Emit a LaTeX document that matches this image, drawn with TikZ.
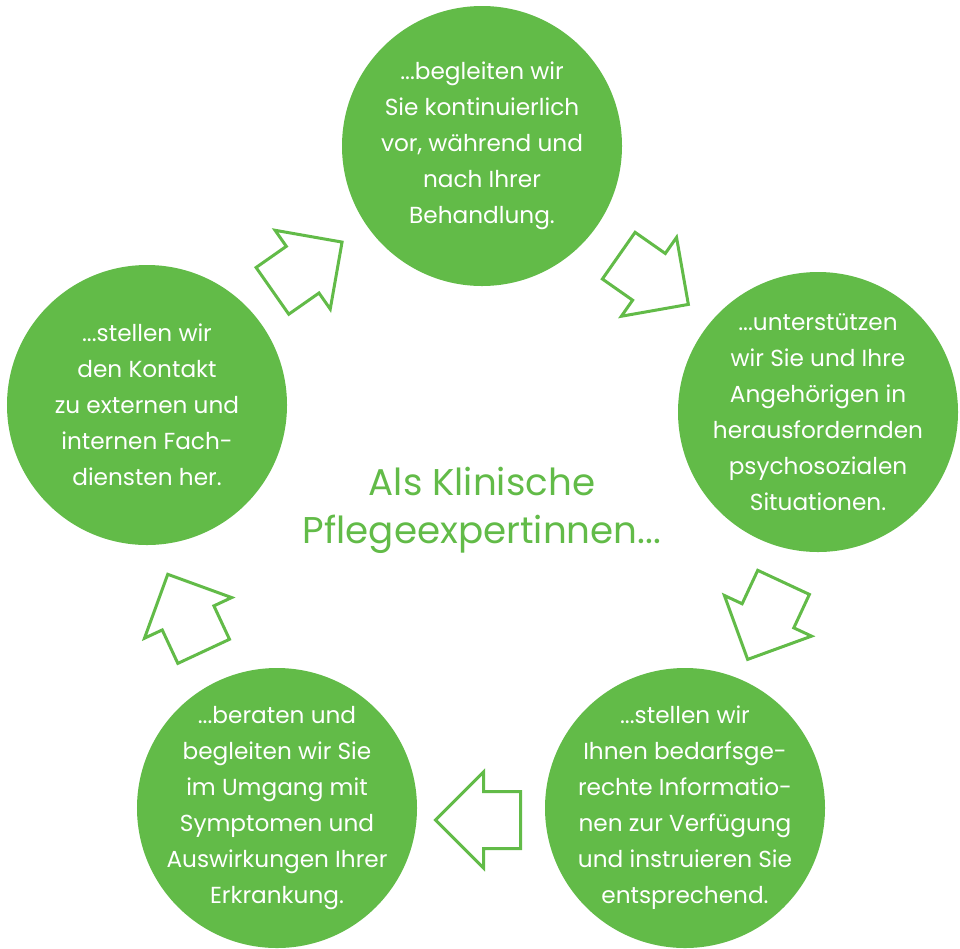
\documentclass[tikz,border=0pt]{standalone}
\usepackage{fontspec}
\setmainfont{Poppins}
\usetikzlibrary{shapes.arrows}
\definecolor{pgreen}{RGB}{98,187,72}

\begin{document}
\begin{tikzpicture}[x=0.25mm,y=-0.25mm]
\tikzstyle{every node}+=[inner sep=0pt]
\tikzstyle{circ}=[circle,fill=pgreen,inner sep=-15mm,minimum size=70mm,text=white,align=center,font=\fontsize{16.5}{25.6}\selectfont]
\tikzstyle{blockarrow}=[single arrow,draw=pgreen,line width=0.75mm,fill=white,inner xsep=0pt,inner ysep=6.75mm,minimum height=21.25mm,single arrow head extend=4.9mm,anchor=tail]
\useasboundingbox (0,0) rectangle (960,948);
\node [circ] (c1) at (482,146) {...begleiten wir\\Sie kontinuierlich\\vor, während und\\nach Ihrer\\Behandlung.};
\node [circ] (c2) at (818,412) {...unterstützen\\wir Sie und Ihre\\Angehörigen in\\herausfordernden\\psychosozialen\\Situationen.};
\node [circ] (c3) at (685,808) {...stellen wir\\Ihnen bedarfsge-\\rechte Informatio-\\nen zur Verfügung\\und instruieren Sie\\entsprechend.};
\node [circ] (c4) at (277,808) {...beraten und\\begleiten wir Sie\\im Umgang mit\\Symptomen und\\Auswirkungen Ihrer\\Erkrankung.};
\node [circ] (c5) at (147,405) {...stellen wir\\den Kontakt\\zu externen und\\internen Fach-\\diensten her.};
\node [text=pgreen,align=center,font=\fontsize{26.5}{34}\selectfont] (mid) at (482,510) {Als Klinische\\Pflegeexpertinnen...};
% arrows between the circles
\node [blockarrow,rotate=35] (a1) at (271.2,291.7) {};
\node [blockarrow,rotate=-35] (a2) at (617.5,254.8) {};
\node [blockarrow,rotate=-115] (a3) at (784.2,581) {};
\node [blockarrow,rotate=180] (a4) at (522,820) {};
\node [blockarrow,rotate=115] (a5) at (204.3,652.7) {};
\end{tikzpicture}
\end{document}
